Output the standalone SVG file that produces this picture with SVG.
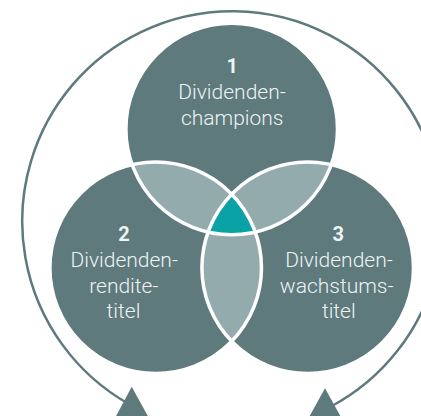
<svg xmlns="http://www.w3.org/2000/svg" width="421" height="416" viewBox="0 0 421 416">
  <style>
    .c { fill: #5e7a7d; }
    .lens { fill: #94abae; }
    .core { fill: #0aa2a4; }
    .rim { fill: none; stroke: #ffffff; stroke-width: 3.5; }
    .t { font-family: Roboto, "Liberation Sans", sans-serif; font-weight: 300; font-size: 21px; fill: #eef3f3; text-anchor: middle; }
    .n { font-family: Roboto, "Liberation Sans", sans-serif; font-weight: 700; font-size: 20px; fill: #eef3f3; text-anchor: middle; }
    .ring { fill: none; stroke: #5e7a7d; stroke-width: 2.5; }
    .head { fill: #5e7a7d; }
  </style>
  <defs>
    <clipPath id="clipT"><circle cx="231.7" cy="129" r="105.8"/></clipPath>
    <clipPath id="clipL"><circle cx="155.7" cy="267.7" r="105.8"/></clipPath>
    <clipPath id="clipR"><circle cx="307.7" cy="267.7" r="105.8"/></clipPath>
  </defs>

  <g id="connectors">
    <path class="ring" d="M 128,403.5 A 210 210 0 1 1 331,406.5"/>
    <polygon class="head" points="131.7,386.7 114.5,419 149.5,419"/>
    <polygon class="head" points="325,388.3 308,419 342,419"/>
  </g>

  <g id="node1">
    <circle class="c" cx="231.7" cy="129" r="105.8"/>
  </g>
  <g id="node2">
    <circle class="c" cx="155.7" cy="267.7" r="105.8"/>
  </g>
  <g id="node3">
    <circle class="c" cx="307.7" cy="267.7" r="105.8"/>
  </g>

  <g id="overlaps">
    <g clip-path="url(#clipT)"><circle class="lens" cx="155.7" cy="267.7" r="105.8"/></g>
    <g clip-path="url(#clipT)"><circle class="lens" cx="307.7" cy="267.7" r="105.8"/></g>
    <g clip-path="url(#clipL)"><circle class="lens" cx="307.7" cy="267.7" r="105.8"/></g>
    <g clip-path="url(#clipT)"><g clip-path="url(#clipL)"><circle class="core" cx="307.7" cy="267.7" r="105.8"/></g></g>
  </g>

  <g id="rims">
    <circle class="rim" cx="231.7" cy="129" r="105.8"/>
    <circle class="rim" cx="155.7" cy="267.7" r="105.8"/>
    <circle class="rim" cx="307.7" cy="267.7" r="105.8"/>
  </g>

  <g id="label1">
    <text class="n" x="232.3" y="72.7">1</text>
    <text class="t" x="232" y="99.3">Dividenden-</text>
    <text class="t" x="232.2" y="125">champions</text>
  </g>
  <g id="label2">
    <text class="n" x="124" y="240.7">2</text>
    <text class="t" x="124.2" y="266.7">Dividenden-</text>
    <text class="t" x="123.8" y="292.7">rendite-</text>
    <text class="t" x="123.5" y="318.3">titel</text>
  </g>
  <g id="label3">
    <text class="n" x="338.3" y="240.7">3</text>
    <text class="t" x="339" y="266.7">Dividenden-</text>
    <text class="t" x="336.7" y="292.7">wachstums-</text>
    <text class="t" x="338.8" y="318.3">titel</text>
  </g>
</svg>
